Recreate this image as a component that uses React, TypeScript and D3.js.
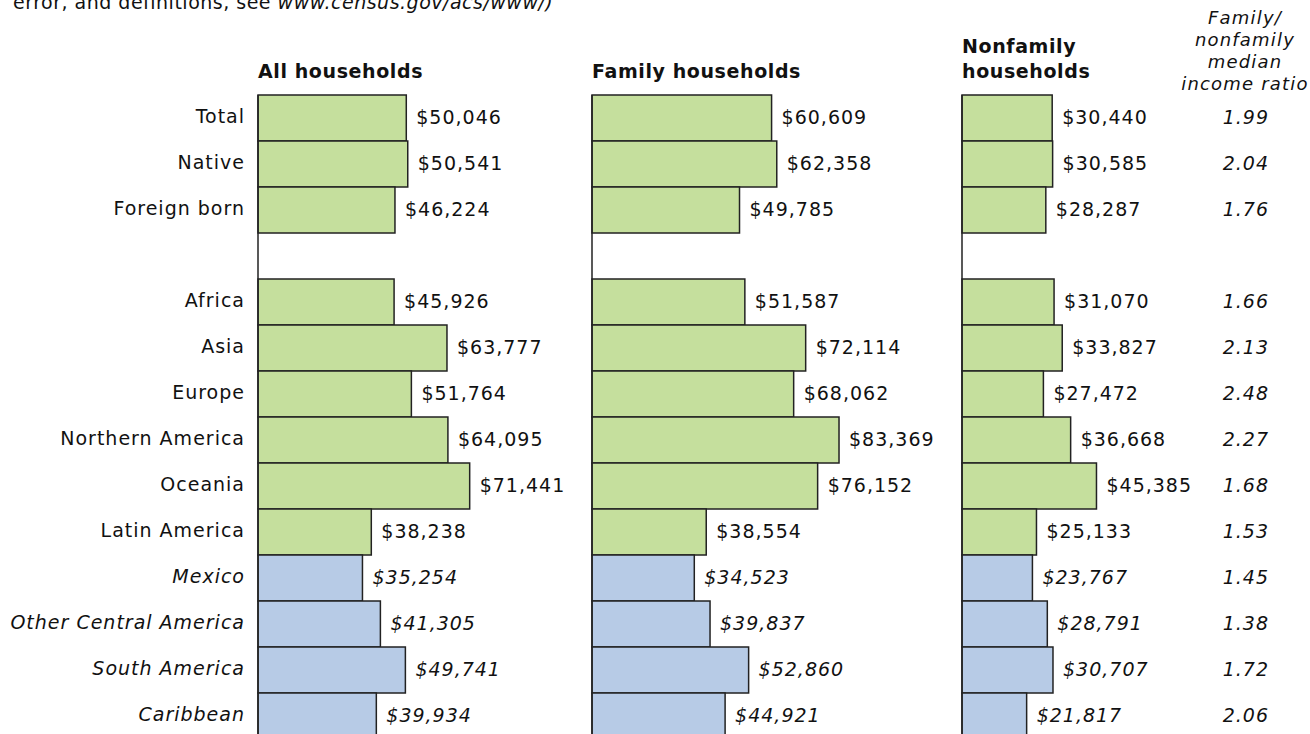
import React, { useEffect, useRef } from "react";
import * as d3 from "d3";

// rows of the chart; "" is the spacer row between totals and regions
const categories = [
  "Total",
  "Native",
  "Foreign born",
  "",
  "Africa",
  "Asia",
  "Europe",
  "Northern America",
  "Oceania",
  "Latin America",
  "Mexico",
  "Other Central America",
  "South America",
  "Caribbean",
];
const subRegions = ["Mexico", "Other Central America", "South America", "Caribbean"];

const allHouseholds = [50046, 50541, 46224, null, 45926, 63777, 51764, 64095, 71441, 38238, 35254, 41305, 49741, 39934];
const familyHouseholds = [60609, 62358, 49785, null, 51587, 72114, 68062, 83369, 76152, 38554, 34523, 39837, 52860, 44921];
const nonfamilyHouseholds = [30440, 30585, 28287, null, 31070, 33827, 27472, 36668, 45385, 25133, 23767, 28791, 30707, 21817];
const incomeRatio = ["1.99", "2.04", "1.76", null, "1.66", "2.13", "2.48", "2.27", "1.68", "1.53", "1.45", "1.38", "1.72", "2.06"];

const panels = [
  { title: ["All households"], values: allHouseholds, x0: 258 },
  { title: ["Family households"], values: familyHouseholds, x0: 592 },
  { title: ["Nonfamily", "households"], values: nonfamilyHouseholds, x0: 962 },
];

function App() {
  const svgRef = useRef(null);

  useEffect(() => {
    const width = 1310;
    const height = 734;
    const font = "'DejaVu Sans', sans-serif";

    const svg = d3.select(svgRef.current).attr("width", width).attr("height", height);
    svg.selectAll("*").remove();

    const y = d3
      .scaleBand()
      .domain(categories.map((d, i) => i))
      .range([95, 95 + categories.length * 46])
      .padding(0);

    const x = d3.scaleLinear().domain([0, 100000]).range([0, 296.3]);
    const money = (v) => "$" + d3.format(",")(v);
    const isSub = (i) => subRegions.includes(categories[i]);

    // cut-off source note at the top
    const note = svg
      .append("text")
      .attr("x", 13)
      .attr("y", 9)
      .attr("font-family", font)
      .attr("font-size", 19)
      .attr("letter-spacing", 0.5)
      .attr("fill", "#111");
    note.append("tspan").text("error, and definitions, see ");
    note.append("tspan").attr("font-style", "italic").text("www.census.gov/acs/www/)");

    // row labels
    svg
      .append("g")
      .selectAll("text")
      .data(categories)
      .enter()
      .append("text")
      .attr("x", 245)
      .attr("y", (d, i) => y(i) + y.bandwidth() / 2 + 5)
      .attr("text-anchor", "end")
      .attr("font-family", font)
      .attr("font-size", 19)
      .attr("letter-spacing", 1)
      .attr("font-style", (d, i) => (isSub(i) ? "italic" : "normal"))
      .attr("fill", "#111")
      .text((d) => d);

    panels.forEach((p) => {
      const g = svg.append("g").attr("transform", `translate(${p.x0},0)`);

      g.append("text")
        .attr("font-family", font)
        .attr("font-size", 19)
        .attr("font-weight", "bold")
        .attr("letter-spacing", 0.6)
        .attr("fill", "#111")
        .selectAll("tspan")
        .data(p.title)
        .enter()
        .append("tspan")
        .attr("x", 0)
        .attr("y", (d, i) => 78 - (p.title.length - 1 - i) * 25)
        .text((d) => d);

      const rows = p.values.map((v, i) => ({ v, i })).filter((d) => d.v != null);

      g.selectAll("rect")
        .data(rows)
        .enter()
        .append("rect")
        .attr("x", 0)
        .attr("y", (d) => y(d.i))
        .attr("width", (d) => x(d.v))
        .attr("height", y.bandwidth())
        .attr("fill", (d) => (isSub(d.i) ? "#b7cbe6" : "#c5df9d"))
        .attr("stroke", "#222")
        .attr("stroke-width", 1.5);

      // axis line
      g.append("line")
        .attr("x1", 0)
        .attr("x2", 0)
        .attr("y1", y(0))
        .attr("y2", height)
        .attr("stroke", "#222")
        .attr("stroke-width", 1.5);

      g.selectAll(".val")
        .data(rows)
        .enter()
        .append("text")
        .attr("x", (d) => x(d.v) + 10)
        .attr("y", (d) => y(d.i) + y.bandwidth() / 2 + 6)
        .attr("font-family", font)
        .attr("font-size", 19)
        .attr("letter-spacing", 1)
        .attr("font-style", (d) => (isSub(d.i) ? "italic" : "normal"))
        .attr("fill", "#111")
        .text((d) => money(d.v));
    });

    // ratio column
    const ratioHead = ["Family/", "nonfamily", "median", "income ratio"];
    svg
      .append("text")
      .attr("font-family", font)
      .attr("font-size", 18)
      .attr("letter-spacing", 1.2)
      .attr("font-style", "italic")
      .attr("text-anchor", "middle")
      .attr("fill", "#111")
      .selectAll("tspan")
      .data(ratioHead)
      .enter()
      .append("tspan")
      .attr("x", 1245)
      .attr("y", (d, i) => 24 + i * 22)
      .text((d) => d);

    svg
      .append("g")
      .selectAll("text")
      .data(incomeRatio.map((v, i) => ({ v, i })).filter((d) => d.v != null))
      .enter()
      .append("text")
      .attr("x", 1269)
      .attr("y", (d) => y(d.i) + y.bandwidth() / 2 + 6)
      .attr("text-anchor", "end")
      .attr("font-family", font)
      .attr("font-size", 19)
      .attr("letter-spacing", 1)
      .attr("font-style", "italic")
      .attr("fill", "#111")
      .text((d) => d.v);
  }, []);

  return (
    <div style={{ position: "absolute", left: 0, top: 0 }}>
      <svg ref={svgRef} style={{ display: "block" }}></svg>
    </div>
  );
}

export default App;
